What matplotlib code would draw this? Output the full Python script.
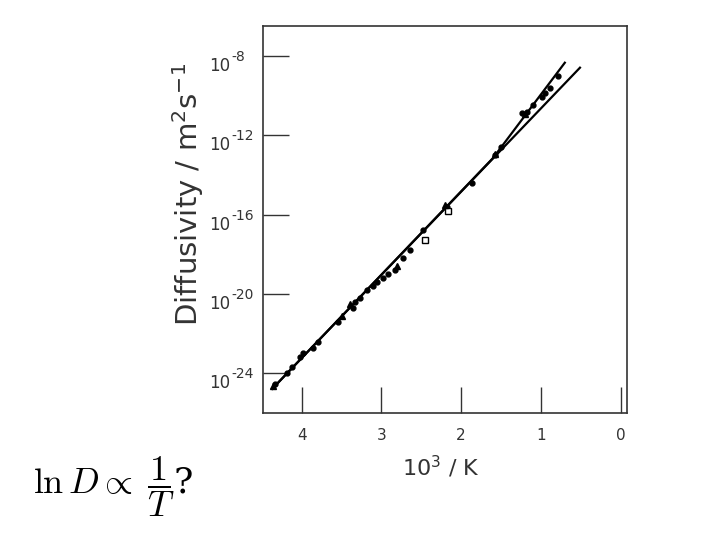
import matplotlib
matplotlib.use("Agg")
import matplotlib.pyplot as plt
from matplotlib.ticker import FixedLocator, NullLocator, FuncFormatter
import numpy as np

# values: x = 10^3/T, y = log10(D / m^2 s^-1)
fit_x = [4.37, 0.51]                 # straight Arrhenius line
fit_logD = [-24.78, -8.60]

curve_x = [4.37, 1.60, 1.30, 1.00, 0.70]   # line through the data (bends up)
curve_logD = [-24.78, -13.15, -11.55, -9.95, -8.35]

dot_x = [4.33, 4.18, 4.12, 4.02, 3.98, 3.86, 3.80, 3.54, 3.36, 3.33, 3.27,
         3.18, 3.10, 3.05, 2.98, 2.92, 2.83, 2.73, 2.64, 2.48, 2.18, 1.86,
         1.57, 1.50, 1.24, 1.18, 1.10, 0.99, 0.95, 0.89, 0.79]
dot_logD = [-24.55, -24.0, -23.7, -23.2, -23.0, -22.7, -22.4, -21.4, -20.7,
            -20.4, -20.2, -19.8, -19.6, -19.4, -19.2, -19.0, -18.8, -18.2,
            -17.8, -16.8, -15.6, -14.4, -13.0, -12.6, -10.9, -10.85, -10.5,
            -10.1, -9.9, -9.6, -9.0]

square_x = [2.45, 2.16]
square_logD = [-17.3, -15.8]

tri_x = [4.36, 3.49, 3.40, 2.80, 2.20, 1.58, 1.20]
tri_logD = [-24.65, -21.1, -20.5, -18.6, -15.5, -12.95, -10.95]

xticks = [4, 3, 2, 1, 0]
yticks_exp = [-8, -12, -16, -20, -24]

ink = "#333333"

fig = plt.figure(figsize=(7.2, 5.4), dpi=100)
ax = fig.add_axes([263/720, 1-413/540, (627-263)/720, (413-26)/540])

ax.plot(fit_x, 10.0**np.array(fit_logD), color="k", lw=1.6)
ax.plot(curve_x, 10.0**np.array(curve_logD), color="k", lw=1.6)
ax.plot(dot_x, 10.0**np.array(dot_logD), ls="None", marker="o",
        ms=3.5, color="k")
ax.plot(square_x, 10.0**np.array(square_logD), ls="None", marker="s",
        ms=4, mfc="white", mec="k", mew=1)
ax.plot(tri_x, 10.0**np.array(tri_logD), ls="None", marker="^",
        ms=5, color="k")

ax.set_yscale("log")
ax.set_xlim(4.486, -0.08)
ax.set_ylim(10.0**-26.0, 10.0**-6.5)

ax.xaxis.set_major_locator(FixedLocator(xticks))
ax.yaxis.set_major_locator(FixedLocator([10.0**e for e in yticks_exp]))
ax.yaxis.set_minor_locator(NullLocator())
ax.xaxis.set_major_formatter(FuncFormatter(lambda v, p: "%d" % v))

ax.tick_params(direction="in", length=19, width=1.0, color=ink,
               labelcolor=ink, labelsize=11)
ax.tick_params(axis="y", labelleft=False)
ax.tick_params(axis="x", pad=11)
for s in ax.spines.values():
    s.set_color(ink)
    s.set_linewidth(1.2)

# y tick labels: "10" with a near full-size raised exponent
ytr = ax.get_yaxis_transform()
for e in yticks_exp:
    ax.annotate("10", xy=(0, 10.0**e), xycoords=ytr,
                xytext=(-33*0.72, -10*0.72), textcoords="offset points",
                ha="right", va="center", fontsize=12, color=ink)
    ax.annotate("%d" % e, xy=(0, 10.0**e), xycoords=ytr,
                xytext=(-32*0.72, -1*0.72), textcoords="offset points",
                ha="left", va="center", fontsize=10, color=ink)

fig.text(188/720, 1-194/540, r"Diffusivity / m$^{2}$s$^{-1}$", rotation=90,
         ha="center", va="center", fontsize=21, color=ink)
fig.text(441/720, 1-467/540, r"10$^{3}$ / K", ha="center", va="center",
         fontsize=16, color=ink)

fig.text(33/720, 1-494/540, r"$\ln D \propto \;\dfrac{1}{T}$?",
         fontsize=26, math_fontfamily="cm", family="DejaVu Serif",
         ha="left", va="baseline")

fig.savefig("out.png", dpi=100)
